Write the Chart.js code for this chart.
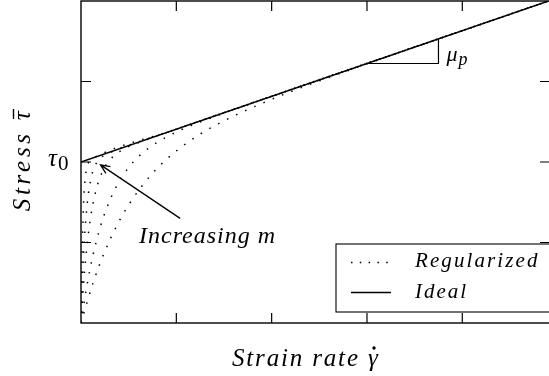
<!DOCTYPE html>
<html>
<head>
<meta charset="utf-8">
<script src="https://cdn.jsdelivr.net/npm/chart.js@4/dist/chart.umd.min.js"></script>
<style>
  html, body { margin: 0; padding: 0; background: #fff; overflow: hidden; width: 549px; height: 376px; }
  #wrap { position: relative; width: 551px; height: 376px; }
  #wrap canvas { position: absolute; left: 0; top: 0; display: block; }
  #labels { position: absolute; left: 0; top: 0; width: 551px; height: 376px; pointer-events: none; }
  .lbl {
    position: absolute; white-space: nowrap; color: #000;
    font-family: "Liberation Serif", "DejaVu Serif", serif;
    font-style: italic; line-height: 1.107;
  }
  .lbl.up { font-style: normal; }
</style>
</head>
<body>
<div id="wrap">
  <canvas id="chart" width="551" height="376"></canvas>
  <div id="labels"></div>
</div>
<script>
// Bingham plastic: ideal law vs. exponentially regularized curves
const strainMax = 4.92;
const stressMax = 4;
const strainTicks = [1, 2, 3, 4];
const stressTicks = [1, 2, 3];
const yieldStress = 2;

// Ideal Bingham line
const idealStrain = [0, 4.92];
const idealStress = [2, 4.007];

// Regularized curves, one pair of arrays per regularization parameter m
const strainM2 = [0, 0.125, 0.25, 0.375, 0.5, 0.75, 1, 1.25, 1.5, 2, 2.5, 3, 3.5, 4, 4.92];
const stressM2 = [0, 0.493, 0.889, 1.208, 1.468, 1.860, 2.137, 2.346, 2.512, 2.779, 3.007, 3.219, 3.426, 3.631, 4.007];

const strainM4 = [0, 0.0625, 0.125, 0.1875, 0.25, 0.375, 0.5, 0.625, 0.75, 1, 1.25, 1.5, 2, 3, 4.92];
const stressM4 = [0, 0.468, 0.838, 1.132, 1.366, 1.707, 1.933, 2.091, 2.206, 2.372, 2.497, 2.607, 2.815, 3.224, 4.007];

const strainM10 = [0, 0.025, 0.05, 0.075, 0.1, 0.15, 0.2, 0.25, 0.3, 0.4, 0.5, 0.6, 1, 2, 4.92];
const stressM10 = [0, 0.453, 0.807, 1.086, 1.305, 1.615, 1.811, 1.938, 2.023, 2.127, 2.191, 2.240, 2.408, 2.816, 4.007];

const strainM20 = [0, 0.0125, 0.025, 0.0375, 0.05, 0.075, 0.1, 0.125, 0.15, 0.2, 0.25, 0.3, 1, 4.92];
const stressM20 = [0, 0.448, 0.797, 1.071, 1.285, 1.584, 1.770, 1.887, 1.962, 2.045, 2.089, 2.117, 2.408, 4.007];

const strainM50 = [0, 0.005, 0.01, 0.015, 0.02, 0.03, 0.04, 0.05, 0.06, 0.08, 0.1, 0.12, 1, 4.92];
const stressM50 = [0, 0.444, 0.791, 1.061, 1.272, 1.566, 1.746, 1.856, 1.925, 1.996, 2.027, 2.044, 2.408, 4.007];

const legendLabels = ['Regularized', 'Ideal'];

const toPoints = (xs, ys) => xs.map((v, i) => ({ x: v, y: ys[i] }));

const DOTS = [1.5, 8.5];
const ASCENT = 0.891; // Liberation Serif ascent, in em

const regularizedStyle = {
  borderColor: '#000',
  borderWidth: 1.5,
  borderDash: DOTS,
  borderCapStyle: 'butt',
  pointRadius: 0,
  fill: false,
  cubicInterpolationMode: 'monotone'
};

const datasets = [
  { label: legendLabels[1], data: toPoints(idealStrain, idealStress),
    borderColor: '#000', borderWidth: 1.4, pointRadius: 0, fill: false, order: 0 },
  { label: legendLabels[0], data: toPoints(strainM2, stressM2), ...regularizedStyle, order: 1 },
  { label: legendLabels[0], data: toPoints(strainM4, stressM4), ...regularizedStyle, order: 1 },
  { label: legendLabels[0], data: toPoints(strainM10, stressM10), ...regularizedStyle, order: 1 },
  { label: legendLabels[0], data: toPoints(strainM20, stressM20), ...regularizedStyle, order: 1 },
  { label: legendLabels[0], data: toPoints(strainM50, stressM50), ...regularizedStyle, order: 1 }
];

const layer = document.getElementById('labels');

// Place a text label with its baseline at (x, baseline); optionally spread to a width.
function placeLabel(parts, x, baseline, size, width, upright) {
  const el = document.createElement('div');
  el.className = upright ? 'lbl up' : 'lbl';
  el.style.fontSize = size + 'px';
  el.style.left = x + 'px';
  el.style.top = (baseline - ASCENT * size) + 'px';
  const spans = parts.map(p => {
    const s = document.createElement('span');
    s.textContent = p;
    el.appendChild(s);
    return s;
  });
  layer.appendChild(el);
  let gap = 0;
  if (width) {
    const n = [...el.textContent].length;
    gap = (width - el.offsetWidth) / (n - 1);
    el.style.letterSpacing = gap + 'px';
  }
  return { el, spans, gap };
}

let marks = null;

const decorations = {
  id: 'decorations',
  afterDatasetsDraw(chart) {
    const { ctx, chartArea: a, scales: { x, y } } = chart;

    const slope = (idealStress[1] - idealStress[0]) / (idealStrain[1] - idealStrain[0]);
    const s0 = 3, s1 = 3.75;
    const tx0 = x.getPixelForValue(s0), tx1 = x.getPixelForValue(s1);
    const ty0 = y.getPixelForValue(yieldStress + slope * s0);
    const ty1 = y.getPixelForValue(yieldStress + slope * s1);
    const yy = y.getPixelForValue(yieldStress);

    // text labels, built once
    if (!marks) {
      placeLabel(['μ'], tx1 + 8, ty0 - 2, 22);
      placeLabel(['p'], tx1 + 20, ty0 + 3, 18);
      placeLabel(['τ'], a.left - 33, yy + 4, 25);
      placeLabel(['0'], a.left - 23, yy + 9, 21, 0, true);
      placeLabel(['Increasing m'], 139, 243, 24, 136);
      placeLabel([legendLabels[0]], 415, 268, 21, 122);
      placeLabel([legendLabels[1]], 415, 299, 21, 51);

      const xt = placeLabel(['Strain rate ', 'γ'], 232, 366, 25, 146);
      const yt = placeLabel(['Stress ', 'τ'], 30, 211, 25, 100);
      yt.el.style.transformOrigin = '0px ' + (ASCENT * 25) + 'px';
      yt.el.style.transform = 'rotate(-90deg)';

      const base = document.getElementById('wrap').getBoundingClientRect();
      const g = xt.spans[1].getBoundingClientRect();
      const t = yt.spans[1].getBoundingClientRect();
      marks = {
        dotX: g.left - base.left + (g.width - xt.gap) * 0.62,
        barTop: t.top - base.top + yt.gap - 2,
        barBottom: t.bottom - base.top - 1
      };
    }

    ctx.save();
    ctx.strokeStyle = '#000';
    ctx.fillStyle = '#000';
    ctx.setLineDash([]);

    // frame
    ctx.lineWidth = 1.4;
    ctx.strokeRect(a.left, a.top, a.right - a.left, a.bottom - a.top);

    // inward ticks on all four sides
    const tl = 10;
    ctx.lineWidth = 1.2;
    ctx.beginPath();
    strainTicks.forEach(v => {
      const px = x.getPixelForValue(v);
      ctx.moveTo(px, a.bottom); ctx.lineTo(px, a.bottom - tl);
      ctx.moveTo(px, a.top); ctx.lineTo(px, a.top + tl);
    });
    stressTicks.forEach(v => {
      const py = y.getPixelForValue(v);
      ctx.moveTo(a.left, py); ctx.lineTo(a.left + tl, py);
      ctx.moveTo(a.right, py); ctx.lineTo(a.right - tl, py);
    });
    ctx.stroke();

    // slope triangle under the ideal line
    ctx.lineWidth = 1.2;
    ctx.beginPath();
    ctx.moveTo(tx0, ty0); ctx.lineTo(tx1, ty0); ctx.lineTo(tx1, ty1);
    ctx.stroke();

    // arrow for the "Increasing m" note
    const hx = x.getPixelForValue(0.205), hy = y.getPixelForValue(1.964);
    const bx = x.getPixelForValue(1.04), by = y.getPixelForValue(1.30);
    ctx.lineWidth = 1.3;
    ctx.beginPath();
    ctx.moveTo(bx, by); ctx.lineTo(hx, hy);
    const ang = Math.atan2(hy - by, hx - bx);
    const hl = 10, spread = 0.42;
    ctx.moveTo(hx - hl * Math.cos(ang - spread), hy - hl * Math.sin(ang - spread));
    ctx.lineTo(hx, hy);
    ctx.lineTo(hx - hl * Math.cos(ang + spread), hy - hl * Math.sin(ang + spread));
    ctx.stroke();

    // legend box and samples
    const lx = 336, ly = 244;
    ctx.fillStyle = '#fff';
    ctx.fillRect(lx, ly, a.right - lx, 68);
    ctx.lineWidth = 1.1;
    ctx.strokeRect(lx, ly, a.right - lx, 68);
    ctx.fillStyle = '#000';
    ctx.lineWidth = 1.5;
    ctx.setLineDash([1.5, 7.3]);
    ctx.beginPath();
    ctx.moveTo(351, 262.5); ctx.lineTo(389, 262.5);
    ctx.stroke();
    ctx.setLineDash([]);
    ctx.lineWidth = 1.3;
    ctx.beginPath();
    ctx.moveTo(351, 292.5); ctx.lineTo(391, 292.5);
    ctx.stroke();

    // dot over gamma and bar over tau in the axis titles
    ctx.beginPath();
    ctx.arc(marks.dotX, 348, 1.7, 0, Math.PI * 2);
    ctx.fill();
    ctx.lineWidth = 1.4;
    ctx.beginPath();
    ctx.moveTo(30 - 16.5, marks.barBottom);
    ctx.lineTo(30 - 16.5, marks.barTop);
    ctx.stroke();

    ctx.restore();
  }
};

new Chart(document.getElementById('chart'), {
  type: 'line',
  data: { datasets },
  options: {
    responsive: false,
    animation: false,
    layout: { padding: { left: 81, right: 1, top: 1, bottom: 53 } },
    plugins: { legend: { display: false }, tooltip: { enabled: false } },
    scales: {
      x: { type: 'linear', min: 0, max: strainMax, display: false },
      y: { type: 'linear', min: 0, max: stressMax, display: false }
    }
  },
  plugins: [decorations]
});
</script>
</body>
</html>
